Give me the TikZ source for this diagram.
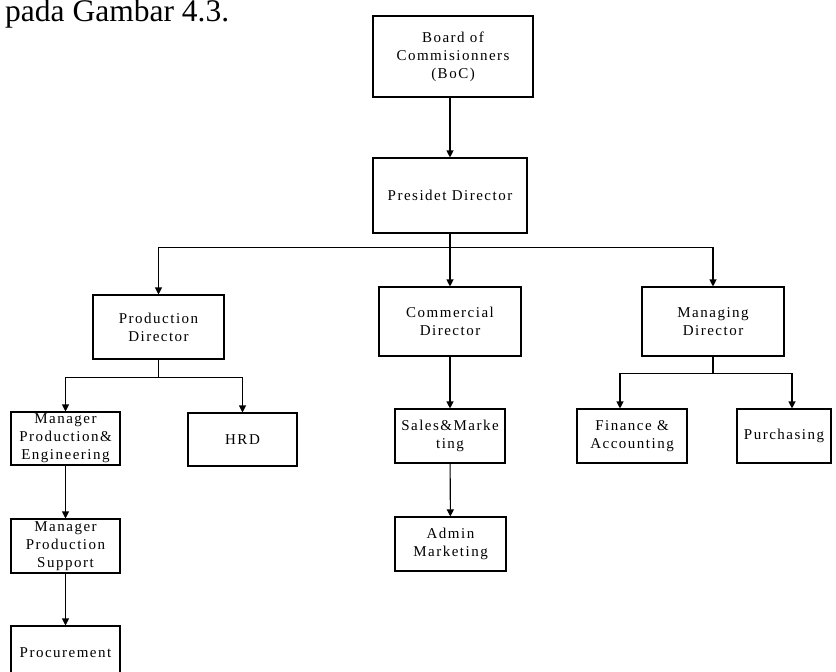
\documentclass[tikz,border=0pt]{standalone}
\usepackage{fontspec}
\setmainfont{Liberation Serif}
\newfontfamily\boxfont[LetterSpace=10]{Liberation Serif}
\usetikzlibrary{arrows.meta}

\begin{document}
\begin{tikzpicture}[x=1pt, y=-1pt,
  box/.style={draw, line width=1.1pt, align=center, inner sep=0pt, font=\boxfont\fontsize{15}{18}\selectfont},
  link/.style={line width=1.1pt},
  arr/.style={line width=1.1pt, -{Triangle[length=7pt, width=7pt]}}]
  \useasboundingbox (0, 0) rectangle (836, 672);
  \node[anchor=base west, inner sep=0pt, font=\fontsize{31.5}{36}\selectfont] (intro) at (5, 21.5) {pada Gambar 4.3.};

  % top of the chart
  \node[box, minimum width=160, minimum height=81] (boc) at (453, 56.5) {Board of\\Commisionners\\(BoC)};
  \node[box, minimum width=154, minimum height=75] (pres) at (450, 195.5) {Presidet Director};

  % directors
  \node[box, minimum width=131, minimum height=64] (prod) at (158.5, 327) {Production\\Director};
  \node[box, minimum width=142, minimum height=69] (comm) at (450, 321.5) {Commercial\\Director};
  \node[box, minimum width=142, minimum height=69] (mang) at (713, 321.5) {Managing\\Director};

  % production side
  \node[box, minimum width=109, minimum height=53] (mpe) at (65.5, 438.5) {Manager\\Production\&\\Engineering};
  \node[box, minimum width=109, minimum height=53] (hrd) at (242.5, 439.5) {HRD};
  \node[box, minimum width=109, minimum height=54] (mps) at (65.5, 546) {Manager\\Production\\Support};
  \node[box, minimum width=109, minimum height=54] (proc) at (65.5, 653) {Procurement};

  % commercial side
  \node[box, minimum width=110, minimum height=54] (sales) at (450, 436) {Sales\&Marke\\ting};
  \node[box, minimum width=111, minimum height=54] (admin) at (450.5, 544) {Admin\\Marketing};

  % managing side
  \node[box, minimum width=110, minimum height=54] (fin) at (632, 436) {Finance \&\\Accounting};
  \node[box, minimum width=94, minimum height=54] (purch) at (784, 436) {Purchasing};

  \draw[arr] (boc.south -| pres.north) -- (pres.north);
  \draw[link] (pres.south) -- ++(0, 14) coordinate (pbar);
  \draw[arr] (pbar) -| (prod.north);
  \draw[arr] (pbar) -- (comm.north);
  \draw[arr] (pbar) -| (mang.north);

  \draw[link] (prod.south) -- ++(0, 18) coordinate (dbar);
  \draw[arr] (dbar) -| (mpe.north);
  \draw[arr] (dbar) -| (hrd.north);
  \draw[arr] (mpe) -- (mps);
  \draw[arr] (mps) -- (proc);

  \draw[arr] (comm) -- (sales);
  \draw[arr] (sales) -- (admin);

  \draw[link] (mang.south) -- ++(0, 17) coordinate (mbar);
  \draw[arr] (mbar) -| ([xshift=-12pt]fin.north);
  \draw[arr] (mbar) -| ([xshift=8pt]purch.north);
\end{tikzpicture}
\end{document}
